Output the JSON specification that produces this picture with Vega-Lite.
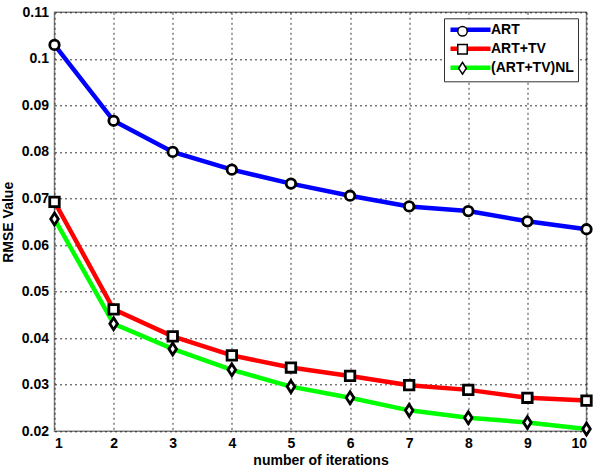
{
  "$schema": "https://vega.github.io/schema/vega-lite/v6.json",
  "width": 532,
  "height": 419,
  "autosize": {"type": "none"},
  "padding": {"left": 54.5, "top": 12.3, "right": 13.5, "bottom": 41.7},
  "background": "white",
  "config": {
    "font": "Liberation Sans",
    "view": {"stroke": "#808080", "strokeWidth": 1.5},
    "axis": {
      "labelFont": "Liberation Sans", "labelFontWeight": "bold", "labelFontSize": 14, "labelColor": "black",
      "titleFont": "Liberation Sans", "titleFontWeight": "bold", "titleFontSize": 14, "titleColor": "black",
      "domain": false, "ticks": false, "grid": true, "gridColor": "#222222", "gridDash": [2, 3], "gridWidth": 1, "gridOpacity": 0.9
    }
  },
  "data": {
    "values": [
      {"iter": 1, "series": "ART", "rmse": 0.1030},
      {"iter": 2, "series": "ART", "rmse": 0.0867},
      {"iter": 3, "series": "ART", "rmse": 0.0800},
      {"iter": 4, "series": "ART", "rmse": 0.0762},
      {"iter": 5, "series": "ART", "rmse": 0.0732},
      {"iter": 6, "series": "ART", "rmse": 0.0706},
      {"iter": 7, "series": "ART", "rmse": 0.0683},
      {"iter": 8, "series": "ART", "rmse": 0.0673},
      {"iter": 9, "series": "ART", "rmse": 0.0651},
      {"iter": 10, "series": "ART", "rmse": 0.0634},
      {"iter": 1, "series": "ART+TV", "rmse": 0.0693},
      {"iter": 2, "series": "ART+TV", "rmse": 0.0462},
      {"iter": 3, "series": "ART+TV", "rmse": 0.0404},
      {"iter": 4, "series": "ART+TV", "rmse": 0.0363},
      {"iter": 5, "series": "ART+TV", "rmse": 0.0337},
      {"iter": 6, "series": "ART+TV", "rmse": 0.0319},
      {"iter": 7, "series": "ART+TV", "rmse": 0.0299},
      {"iter": 8, "series": "ART+TV", "rmse": 0.0289},
      {"iter": 9, "series": "ART+TV", "rmse": 0.0272},
      {"iter": 10, "series": "ART+TV", "rmse": 0.0266},
      {"iter": 1, "series": "(ART+TV)NL", "rmse": 0.0656},
      {"iter": 2, "series": "(ART+TV)NL", "rmse": 0.0431},
      {"iter": 3, "series": "(ART+TV)NL", "rmse": 0.0377},
      {"iter": 4, "series": "(ART+TV)NL", "rmse": 0.0332},
      {"iter": 5, "series": "(ART+TV)NL", "rmse": 0.0296},
      {"iter": 6, "series": "(ART+TV)NL", "rmse": 0.0272},
      {"iter": 7, "series": "(ART+TV)NL", "rmse": 0.0245},
      {"iter": 8, "series": "(ART+TV)NL", "rmse": 0.0229},
      {"iter": 9, "series": "(ART+TV)NL", "rmse": 0.0219},
      {"iter": 10, "series": "(ART+TV)NL", "rmse": 0.0205}
    ]
  },
  "encoding": {
    "x": {
      "field": "iter", "type": "quantitative",
      "scale": {"domain": [1, 10], "nice": false, "zero": false},
      "axis": {"title": "number of iterations", "values": [1, 2, 3, 4, 5, 6, 7, 8, 9, 10], "format": "d", "labelPadding": 5, "titlePadding": 3}
    },
    "y": {
      "field": "rmse", "type": "quantitative",
      "scale": {"domain": [0.02, 0.11], "nice": false, "zero": false},
      "axis": {"title": "RMSE Value", "values": [0.02, 0.03, 0.04, 0.05, 0.06, 0.07, 0.08, 0.09, 0.1, 0.11], "format": ".2~f", "labelPadding": 6, "titlePadding": 6}
    }
  },
  "layer": [
    {
      "mark": {"type": "line", "strokeWidth": 4.5},
      "encoding": {
        "color": {
          "field": "series", "type": "nominal",
          "scale": {"domain": ["ART", "ART+TV", "(ART+TV)NL"], "range": ["#0000ff", "#ff0000", "#00ff00"]},
          "legend": {
            "title": null, "orient": "none", "legendX": 389.5, "legendY": 6,
            "symbolType": "M-1,0H7", "symbolSize": 100, "symbolStrokeWidth": 4.5,
            "labelFont": "Liberation Sans", "labelFontSize": 14, "labelFontWeight": "bold", "labelColor": "black",
            "labelOffset": 28, "padding": 4, "rowPadding": 0,
            "strokeColor": "#333333", "fillColor": "white"
          }
        }
      }
    },
    {
      "mark": {"type": "point", "filled": true, "fill": "white", "stroke": "black", "strokeWidth": 2.8, "opacity": 1, "size": 90},
      "encoding": {
        "shape": {
          "field": "series", "type": "nominal",
          "sort": ["ART", "ART+TV", "(ART+TV)NL"],
          "scale": {"range": ["circle", "square", "M0,-1.25L0.8,0L0,1.25L-0.8,0Z"]},
          "legend": {
            "title": null, "orient": "none", "legendX": 389.5, "legendY": 8,
            "symbolSize": 90, "symbolOffset": 7.5,
            "labelExpr": "''", "labelFontSize": 14,
            "labelOffset": 28, "padding": 4, "rowPadding": 2,
            "strokeColor": null, "fillColor": null,
            "encode": {"symbols": {"fill": {"value": "white"}, "stroke": {"value": "black"}, "strokeWidth": {"value": 2.6}, "opacity": {"value": 1}}}
          }
        }
      }
    }
  ]
}
